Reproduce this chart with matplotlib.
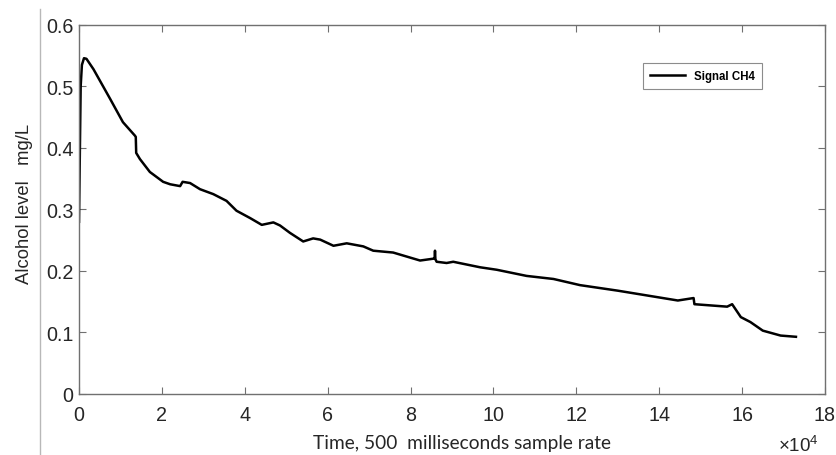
import matplotlib.pyplot as plt
from matplotlib.lines import Line2D
from matplotlib.ticker import FuncFormatter

plt.rcParams['mathtext.fontset'] = 'custom'
plt.rcParams['mathtext.rm'] = 'Liberation Sans'

# samples (500 ms each) vs alcohol level in mg/L
samples = [0, 400, 700, 1200, 1800, 3100, 3500, 5000, 7500, 10600, 13500, 13700,
           13800, 14700, 17100, 20300, 22000, 24400, 25000, 26800, 29200, 32400,
           35600, 38000, 41300, 44100, 46900, 48500, 50900, 54100, 56500, 58200,
           61400, 64600, 68600, 71000, 75800, 82300, 85500, 85800, 85900, 86000,
           86300, 88700, 90300, 96800, 100800, 108000, 114500, 120900, 130000,
           144500, 148300, 148500, 156400, 157600, 159700, 162000, 165000,
           169300, 173000]
level = [0.28, 0.50, 0.535, 0.546, 0.545, 0.532, 0.528, 0.51, 0.48, 0.442, 0.42, 0.418,
         0.392, 0.382, 0.361, 0.345, 0.341, 0.338, 0.345, 0.343, 0.333, 0.325,
         0.314, 0.298, 0.286, 0.275, 0.279, 0.274, 0.262, 0.248, 0.253, 0.251,
         0.241, 0.245, 0.240, 0.233, 0.230, 0.217, 0.220, 0.220, 0.233, 0.219,
         0.215, 0.213, 0.215, 0.206, 0.202, 0.192, 0.187, 0.177, 0.168,
         0.152, 0.156, 0.146, 0.142, 0.146, 0.125, 0.117, 0.103,
         0.095, 0.093]

fig = plt.figure(figsize=(8.36, 4.56), dpi=100)
ax = fig.add_axes([0.0945, 0.1338, 0.8923, 0.8092])

ax.plot(samples, level, color='black', linewidth=1.8, label='Signal CH4')

ax.set_xlim(0, 180000)
ax.set_ylim(0, 0.6)
ax.set_xticks(range(0, 180001, 20000))
ax.xaxis.set_major_formatter(FuncFormatter(lambda v, p: '%g' % (v / 1e4)))
ax.set_yticks([0, 0.1, 0.2, 0.3, 0.4, 0.5, 0.6])
ax.set_yticklabels(['0', '0.1', '0.2', '0.3', '0.4', '0.5', '0.6'])

for s in ax.spines.values():
    s.set_color('#707070')
    s.set_linewidth(1.0)
ax.tick_params(direction='in', length=5, width=0.8, color='#707070',
               top=True, right=True, labelsize=14.2, labelcolor='#262626')
ax.tick_params(axis='x', pad=8)
ax.tick_params(axis='y', pad=4)
for lab in ax.get_xticklabels() + ax.get_yticklabels():
    lab.set_family('Liberation Sans')

ax.set_xlabel('Time, 500  milliseconds sample rate', fontsize=13.8,
              family='Lato', color='#262626')
ax.xaxis.set_label_coords(0.513, -0.108)
ax.set_ylabel('Alcohol level   mg/L', fontsize=13.3, family='Liberation Sans',
              color='#262626')
ax.yaxis.set_label_coords(-0.062, 0.518)

fig.text(778 / 836, 4 / 456, '×10$^{4}$', fontsize=13.5, family='Liberation Sans',
         color='#262626', va='baseline', ha='left')

leg = ax.legend(loc='upper right', bbox_to_anchor=(0.9155, 0.897),
                prop={'family': 'Liberation Sans', 'weight': 'bold', 'size': 8.3},
                frameon=True, fancybox=False, edgecolor='#707070',
                handlelength=3.0, borderpad=0.6, borderaxespad=0)
leg.get_frame().set_linewidth(0.8)

# light separator line at the left of the image
fig.add_artist(Line2D([40 / 836, 40 / 836], [0, 1 - 10 / 456],
                      transform=fig.transFigure, color='#b8b8b8', linewidth=1))

fig.savefig('out.png', dpi=100)
